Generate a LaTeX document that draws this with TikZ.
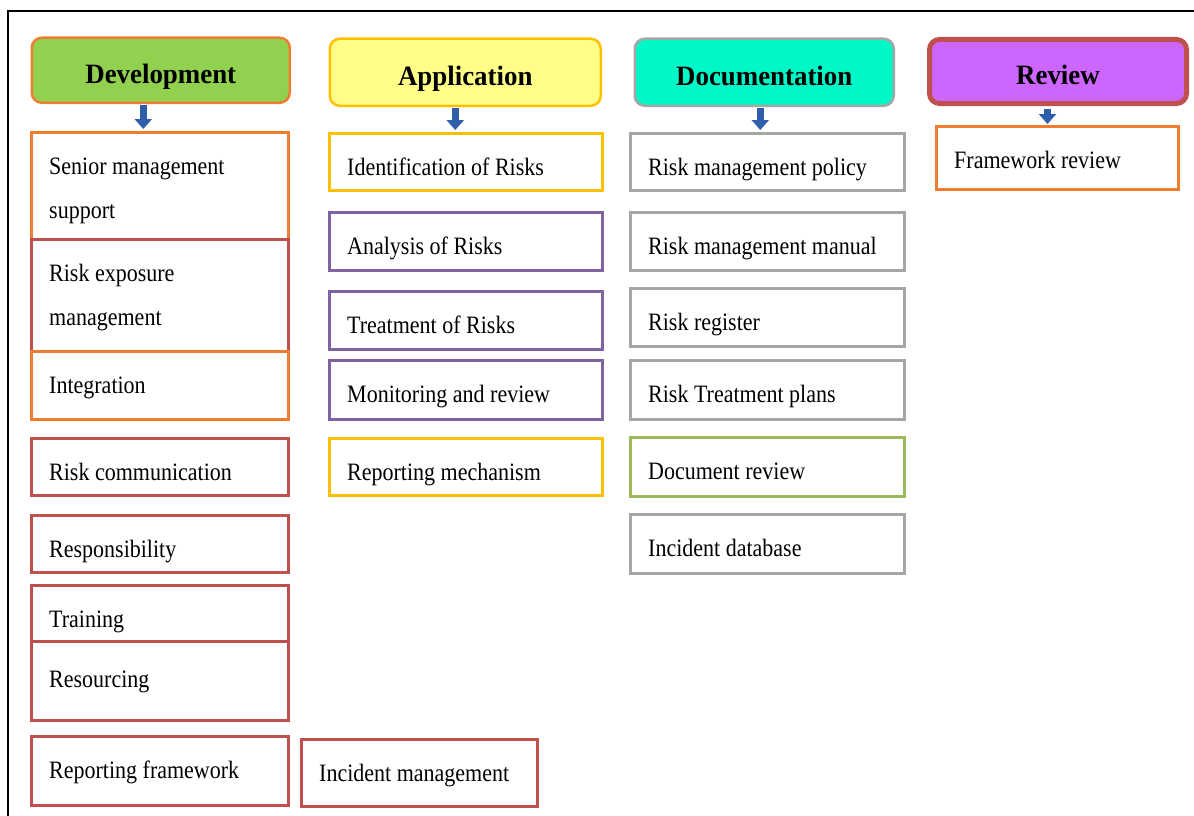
\documentclass[tikz,border=0pt]{standalone}
\usepackage{fontspec}
\newfontfamily\entryfont{Liberation Serif}[FakeStretch=0.88]
\newfontfamily\headfont{Liberation Serif}[FakeStretch=0.96]
\usetikzlibrary{arrows.meta}

\definecolor{lnorange}{HTML}{ED7D31}
\definecolor{lnred}{HTML}{C0504D}
\definecolor{lngold}{HTML}{FFC000}
\definecolor{lnpurple}{HTML}{8064A2}
\definecolor{lngray}{HTML}{A6A6A6}
\definecolor{lngreen}{HTML}{9BBB59}
\definecolor{fgreen}{HTML}{92D050}
\definecolor{fyellow}{HTML}{FFFF88}
\definecolor{faqua}{HTML}{00F8C8}
\definecolor{fviolet}{HTML}{CC66FF}
\definecolor{arrowblue}{HTML}{2E5FAA}

\tikzset{
  head/.style={rectangle, rounded corners=10pt, anchor=north west,
    line width=2.5pt, inner sep=0pt, text height=26pt, text depth=0pt,
    font=\headfont\bfseries\fontsize{28pt}{32pt}\selectfont},
  entrybox/.style={rectangle, anchor=north west, line width=3pt,
    fill=white, inner sep=0pt},
  entrytext/.style={anchor=base west, inner sep=0pt,
    font=\entryfont\fontsize{25pt}{44pt}\selectfont},
  flow/.style={-{Triangle[width=17pt,length=10pt]}, line width=7pt,
    draw=arrowblue, shorten <=1pt, shorten >=2pt},
  frameline/.style={line width=2.5pt, draw=black}
}

% [#1 extra drop of the text], #2 name, #3 border colour,
% #4 x, #5 y (top), #6 width, #7 height, #8 text
\newcommand\entry[8][0]{%
  \node[entrybox, draw=#3, minimum width=#6pt, minimum height=#7pt]
    (#2) at (#4,#5) {};
  \node[entrytext] (#2-t) at ([xshift=19pt,yshift=-43pt-#1pt]#2.north west)
    {\parbox[t]{230pt}{\raggedright #8}};
}

\begin{document}
\begin{tikzpicture}[x=1pt,y=-1pt]
\useasboundingbox (0,0) rectangle (1194,816);

% outer frame (left and top edges)
\draw[frameline] (8,820) -- (8,11) -- (1198,11);

% column headings
\node[head, fill=fgreen, draw=lnorange, minimum width=258pt, minimum height=65pt] (devh) at (30.5,36.5) {Development};
\node[head, fill=fyellow, draw=lngold, minimum width=271pt, minimum height=67pt] (apph) at (328.5,37.5) {Application};
\node[head, fill=faqua, draw=lngray, minimum width=259pt, minimum height=67pt] (doch) at (633.5,37.5) {Documentation};
\node[head, fill=fviolet, draw=lnred, line width=5pt, minimum width=257pt, minimum height=64pt] (revh) at (927,37) {Review};

% Development
\entry{dev1}{lnorange}{30}{131}{257}{107}{Senior management\\support}
\entry{dev2}{lnred}{30}{238}{257}{112}{Risk exposure\\management}
\entry{dev3}{lnorange}{30}{350}{257}{68}{Integration}
\entry{dev4}{lnred}{30}{437}{257}{57}{Risk communication}
\entry{dev5}{lnred}{30}{514}{257}{57}{Responsibility}
\entry{dev6}{lnred}{30}{584}{257}{56}{Training}
\entry[4]{dev7}{lnred}{30}{640}{257}{79}{Resourcing}
\entry{dev8}{lnred}{30}{735}{257}{69}{Reporting framework}
\entry{dev9}{lnred}{300}{738}{236}{67}{Incident management}

% Application
\entry{app1}{lngold}{328}{132}{273}{57}{Identification of Risks}
\entry{app2}{lnpurple}{328}{211}{273}{58}{Analysis of Risks}
\entry{app3}{lnpurple}{328}{290}{273}{58}{Treatment of Risks}
\entry{app4}{lnpurple}{328}{359}{273}{59}{Monitoring and review}
\entry{app5}{lngold}{328}{437}{273}{57}{Reporting mechanism}

% Documentation
\entry{doc1}{lngray}{629}{132}{274}{57}{Risk management policy}
\entry{doc2}{lngray}{629}{211}{274}{58}{Risk management manual}
\entry{doc3}{lngray}{629}{287}{274}{58}{Risk register}
\entry{doc4}{lngray}{629}{359}{274}{59}{Risk Treatment plans}
\entry{doc5}{lngreen}{629}{436}{274}{59}{Document review}
\entry{doc6}{lngray}{629}{513}{274}{59}{Incident database}

% Review
\entry{rev1}{lnorange}{935}{125}{242}{63}{Framework review}

% arrows from headings to first entries
\coordinate (a1) at ([xshift=-17.5pt]devh.south);
\coordinate (a2) at ([xshift=-10pt]apph.south);
\coordinate (a3) at ([xshift=-4pt]doch.south);
\coordinate (a4) at ([xshift=-10.5pt]revh.south);
\draw[flow] (a1) -- (a1 |- dev1.north);
\draw[flow] (a2) -- (a2 |- app1.north);
\draw[flow] (a3) -- (a3 |- doc1.north);
\draw[flow, shorten <=2.5pt, shorten >=1pt] (a4) -- (a4 |- rev1.north);
\end{tikzpicture}
\end{document}
